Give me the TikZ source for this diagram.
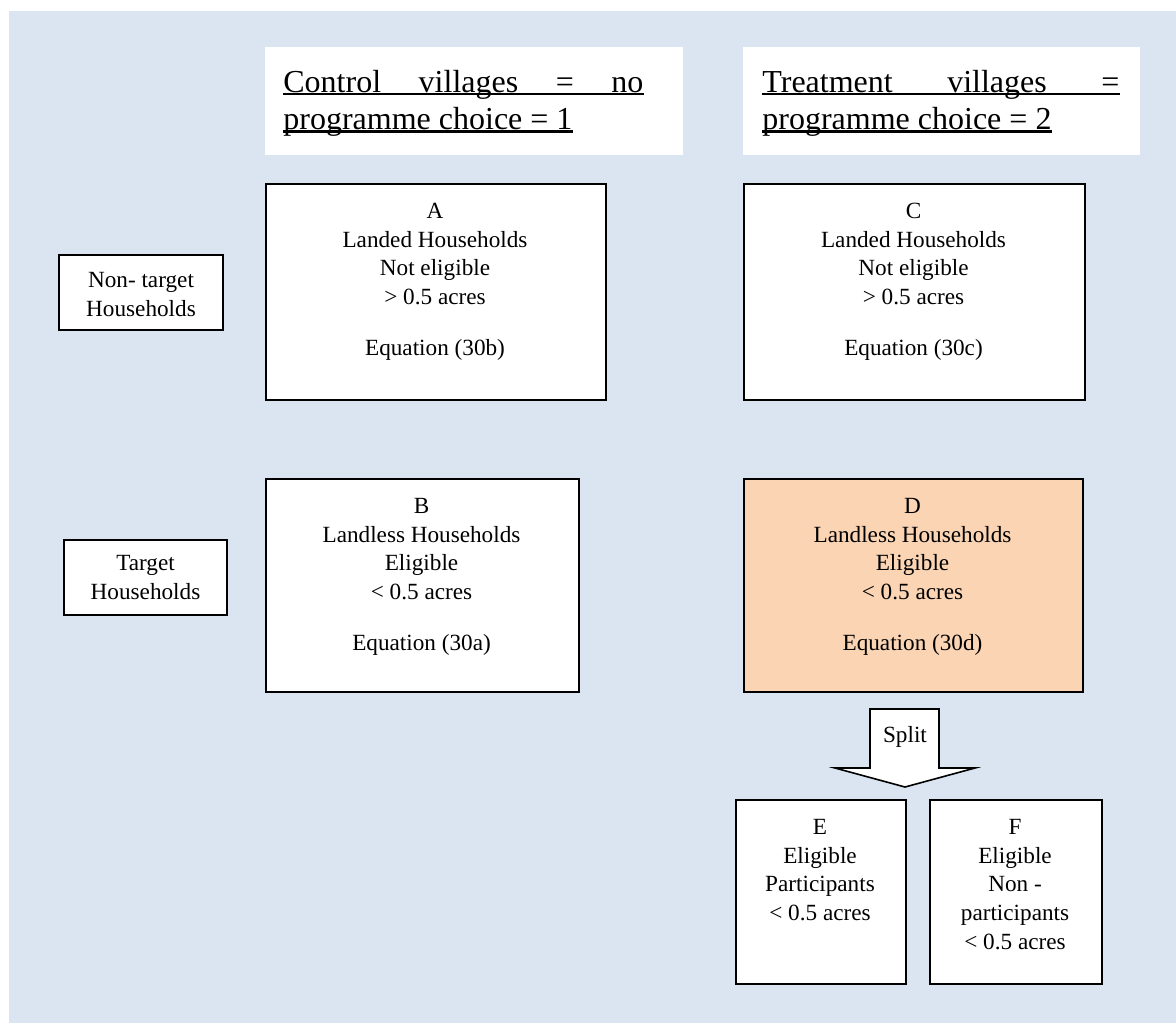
\documentclass[tikz,border=0pt]{standalone}
\usepackage{fontspec}
\setmainfont{Liberation Serif}
\definecolor{bgblue}{HTML}{DBE5F1}
\definecolor{peach}{HTML}{FBD4B4}
\begin{document}
\begin{tikzpicture}[x=0.5pt,y=-0.5pt,
  box/.style={draw=black, line width=1pt, fill=white, inner sep=0pt, anchor=north west},
  hbox/.style={fill=white, inner sep=0pt, anchor=north west, minimum height=54pt},
  body/.style={font=\fontsize{11.6pt}{14.3pt}\selectfont, align=center, inner sep=0pt, anchor=north},
  hdr/.style={font=\fontsize{16pt}{19pt}\selectfont, inner sep=0pt, anchor=base west},
  uline/.style={line width=1.15pt},
  blockarrow/.style={draw=black, fill=white, line width=0.8pt, line join=miter}]
\useasboundingbox (0,0) rectangle (1176,1023);
\fill[bgblue] (9,11) rectangle (1176,1023);

% headers
\node[hbox, minimum width=209pt] (H1) at (265,47) {};
\node[hbox, minimum width=198.5pt] (H2) at (743,47) {};
\node[hdr] (H1a) at (283,92) {\makebox[180pt][s]{Control villages = no}};
\node[hdr] (H1b) at (283,129.5) {programme choice = 1};
\node[hdr] (H2a) at (762,92) {\makebox[178.5pt][s]{Treatment villages =}};
\node[hdr] (H2b) at (762,129.5) {programme choice = 2};
\foreach \n in {H1a,H1b,H2a,H2b}
  \draw[uline] ([yshift=-1pt]\n.base west) -- ([yshift=-1pt]\n.base east);

% row labels
\node[box, minimum width=82pt, minimum height=37.5pt] (NT) at (58,254) {};
\node[body, anchor=center] (NTt) at ([yshift=-1pt]NT.center) {Non- target\\Households};
\node[box, minimum width=81.5pt, minimum height=37.5pt] (T) at (63,539) {};
\node[body, anchor=center] (Tt) at (T.center) {Target\\Households};

% main boxes
\node[box, minimum width=170pt, minimum height=108pt] (A) at (265,183) {};
\node[body] (At) at (435,203) {A\\Landed Households\\Not eligible\\> 0.5 acres\\[11.2pt]Equation (30b)};
\node[box, minimum width=170.5pt, minimum height=108pt] (C) at (743,183) {};
\node[body] (Ct) at (913.5,203) {C\\Landed Households\\Not eligible\\> 0.5 acres\\[11.2pt]Equation (30c)};
\node[box, minimum width=156.5pt, minimum height=106.5pt] (B) at (265,478) {};
\node[body] (Bt) at (421.5,498) {B\\Landless Households\\Eligible\\< 0.5 acres\\[11.2pt]Equation (30a)};
\node[box, fill=peach, minimum width=169.5pt, minimum height=106.5pt] (D) at (743,478) {};
\node[body] (Dt) at (912.5,498) {D\\Landless Households\\Eligible\\< 0.5 acres\\[11.2pt]Equation (30d)};

% split arrow
\coordinate (s1) at (870,709);
\coordinate (s2) at (939,709);
\coordinate (s3) at (939,768);
\coordinate (s4) at (975,768);
\coordinate (tip) at (905,787);
\coordinate (s6) at (835,768);
\coordinate (s7) at (870,768);
\draw[blockarrow] (s1) -- (s2) -- (s3) -- (s4) -- (tip) -- (s6) -- (s7) -- cycle;
\node[body, anchor=base] (split) at (905,742) {Split};

% E and F
\node[box, minimum width=85pt, minimum height=92pt] (E) at (735,799) {};
\node[body] (Et) at (820,819) {E\\Eligible\\Participants\\< 0.5 acres};
\node[box, minimum width=86pt, minimum height=92pt] (F) at (929,799) {};
\node[body] (Ft) at (1015,819) {F\\Eligible\\Non -\\participants\\< 0.5 acres};
\end{tikzpicture}
\end{document}
